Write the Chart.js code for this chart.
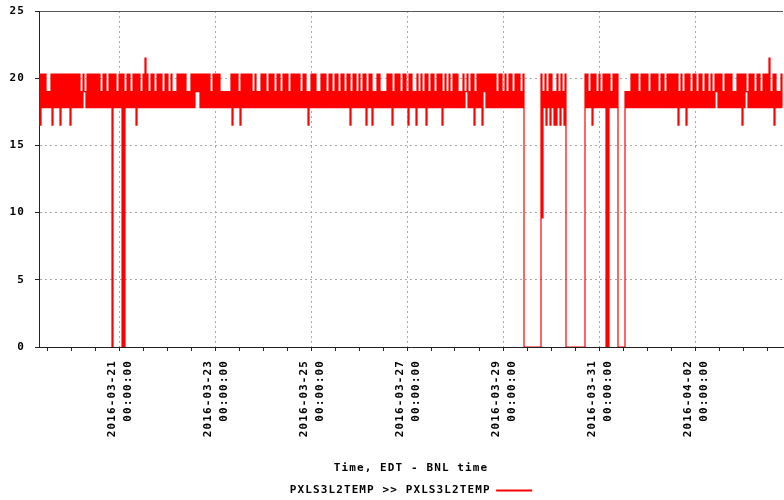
<!DOCTYPE html>
<html>
<head>
<meta charset="utf-8">
<script src="https://cdn.jsdelivr.net/npm/chart.js@4.4.1/dist/chart.umd.min.js"></script>
<style>
  html, body { margin: 0; padding: 0; background: #fff; }
  #wrap { width: 784px; height: 500px; }
</style>
</head>
<body>
<div id="wrap"><canvas id="chart" width="784" height="500"></canvas></div>
<script>
// time window shown (EDT), in hours from START
const START = "2016-03-19T08:00:00Z";
const HOURS = 372;

// major tick labels, all at midnight
const DATE_LABELS = ["2016-03-21", "2016-03-23", "2016-03-25", "2016-03-27", "2016-03-29", "2016-03-31", "2016-04-02"];
const TIME_LABEL = "00:00:00";

// temperature steps the sensor reports, by code
const LEVELS = [0, 16.5, 17.8, 19.0, 20.3, 21.5, 9.6];

// highest reading in each hour (codes into LEVELS), one string per day starting 08:00
const HIGH = [
  "4444 3344 4444 4444 4444 4343",
  "4444 4443 4434 4443 4443 4434",
  "4443 4543 4434 4434 4343 3444",
  "4433 4444 4444 4434 4443 3333",
  "4444 3444 4443 4334 4434 4434",
  "4344 4344 4443 4433 4443 3444",
  "3443 4434 4344 3443 4344 3443",
  "3443 3344 4344 4344 3443 3434",
  "3443 4434 4434 3434 4433 4343",
  "4434 4444 4444 4344 3434 4344",
  "4340 0000 0004 3434 4334 3434",
  "0000 0000 0443 4443 4344 4434",
  "4400 0333 4444 3444 4344 4434",
  "4344 4444 3434 4434 4344 3443",
  "4344 4434 4443 3444 4434 4434",
  "4344 4534 4334"
];

// lowest reading in each hour
const LOW = [
  "1222 2212 2212 2221 2222 2232",
  "2222 2222 2222 0222 2002 2222",
  "1222 2222 2222 2222 2222 2222",
  "2222 2233 2222 2222 2222 2222",
  "1222 1222 2222 2222 2222 2222",
  "2222 2222 2222 2212 2222 2222",
  "2222 2222 2221 2222 2221 2212",
  "2222 2222 1222 2222 1222 1222",
  "2122 2222 2122 2222 2222 2322",
  "2122 2132 2222 2222 2222 2222",
  "2200 0000 0006 2121 2112 1210",
  "0000 0000 0222 1222 2220 0222",
  "2000 0222 2222 2222 2222 2222",
  "2222 2221 2221 2222 2222 2222",
  "2232 2222 2222 2221 2322 2222",
  "2222 2221 2222"
];

const SERIES = "PXLS3L2TEMP >> PXLS3L2TEMP";

const hi = HIGH.join("").replace(/ /g, "");
const lo = LOW.join("").replace(/ /g, "");
const points = [];
for (let i = 0; i < hi.length; i++) {
  points.push({ x: i, y: LEVELS[+hi[i]] });
  points.push({ x: i + 0.5, y: LEVELS[+lo[i]] });
}

const t0 = Date.parse(START);
const majorHours = DATE_LABELS.map(d => (Date.parse(d + "T00:00:00Z") - t0) / 3600000);
const tickHours = [];
for (let h = majorHours[0] % 12; h <= HOURS; h += 12) tickHours.push(h);

Chart.defaults.font.family = "'DejaVu Sans Mono', monospace";
Chart.defaults.font.size = 11;
Chart.defaults.font.weight = "bold";
Chart.defaults.color = "#000";

// the reference font is wide, widen the glyph spacing a bit
const spacing = {
  id: "spacing",
  beforeUpdate(chart) { chart.ctx.letterSpacing = "1.1px"; },
  beforeDraw(chart) { chart.ctx.letterSpacing = "1.1px"; }
};

new Chart(document.getElementById("chart"), {
  type: "line",
  data: {
    datasets: [{
      label: SERIES,
      data: points,
      borderColor: "#ff0000",
      backgroundColor: "#ff0000",
      borderWidth: 1.2,
      pointRadius: 0,
      stepped: true,
      fill: false
    }]
  },
  options: {
    responsive: false,
    animation: false,
    events: [],
    layout: { autoPadding: false, padding: { top: 11, right: 1, left: 0, bottom: -6 } },
    scales: {
      x: {
        type: "linear",
        min: 0,
        max: HOURS,
        afterBuildTicks: s => { s.ticks = tickHours.map(v => ({ value: v })); },
        afterFit: s => {
          s.height = 130;
          s.paddingLeft = 0;
          s.paddingRight = 0;
        },
        ticks: {
          autoSkip: false,
          minRotation: 90,
          maxRotation: 90,
          padding: 9,
          labelOffset: -7,
          font: { lineHeight: "16px" },
          callback: v => {
            const k = majorHours.indexOf(v);
            return k < 0 ? "" : [DATE_LABELS[k], TIME_LABEL];
          }
        },
        grid: {
          color: c => majorHours.includes(c.tick?.value) ? "#aaa" : "rgba(0,0,0,0)",
          tickColor: "#222",
          tickLength: 4
        },
        border: { color: "#222", width: 1, dash: [2, 3] },
        title: {
          display: true,
          text: "Time, EDT - BNL time",
          padding: { top: 0, bottom: 2 }
        }
      },
      y: {
        min: 0,
        max: 25,
        afterFit: s => {
          s.width = 39;
          s.paddingTop = 0;
          s.paddingBottom = 0;
        },
        ticks: { stepSize: 5, padding: 10 },
        grid: {
          color: c => c.tick?.value === 25 ? "#555" : (c.tick?.value === 0 ? "rgba(0,0,0,0)" : "#aaa"),
          tickColor: "#222",
          tickLength: 4
        },
        border: { color: "#222", width: 1, dash: c => c.tick?.value === 25 ? [] : [2, 3] }
      }
    },
    plugins: {
      tooltip: { enabled: false },
      legend: {
        position: "bottom",
        fullSize: false,
        rtl: true,
        textDirection: "ltr",
        labels: {
          usePointStyle: true,
          pointStyle: "line",
          pointStyleWidth: 36,
          padding: 8,
          generateLabels: chart => Chart.defaults.plugins.legend.labels.generateLabels(chart)
            .map(l => Object.assign(l, { lineWidth: 2 }))
        }
      }
    }
  },
  plugins: [spacing]
});
</script>
</body>
</html>
